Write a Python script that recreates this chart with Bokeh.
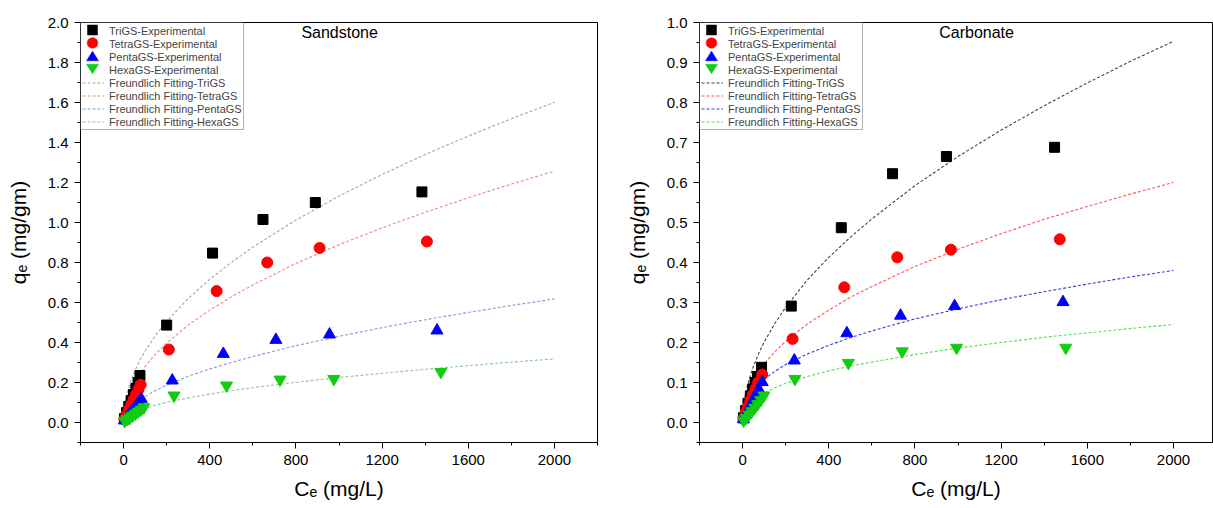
import math
from bokeh.plotting import figure
from bokeh.layouts import row
from bokeh.models import (FixedTicker, PrintfTickFormatter, Label, Range1d, Legend, LegendItem,
                          PolyAnnotation)
from bokeh.embed import file_html
from bokeh.resources import INLINE

# ---------------- data ----------------
legend_names = ["TriGS-Experimental", "TetraGS-Experimental", "PentaGS-Experimental", "HexaGS-Experimental",
                "Freundlich Fitting-TriGS", "Freundlich Fitting-TetraGS",
                "Freundlich Fitting-PentaGS", "Freundlich Fitting-HexaGS"]

# Sandstone experimental
ss_tri_ce = [4, 14, 24, 35, 46, 57, 67, 76, 200, 413, 647, 890, 1385]
ss_tri_qe = [0.02, 0.05, 0.08, 0.11, 0.14, 0.17, 0.20, 0.235, 0.487, 0.847, 1.015, 1.10, 1.153]
ss_tetra_ce = [4, 14, 25, 36, 47, 58, 69, 79, 210, 432, 667, 910, 1408]
ss_tetra_qe = [0.015, 0.04, 0.065, 0.09, 0.115, 0.14, 0.165, 0.189, 0.365, 0.657, 0.80, 0.873, 0.905]
ss_penta_ce = [4, 15, 27, 38, 50, 61, 72, 82, 226, 463, 707, 956, 1455]
ss_penta_qe = [0.01, 0.025, 0.04, 0.055, 0.07, 0.085, 0.10, 0.118, 0.21, 0.343, 0.413, 0.44, 0.46]
ss_hexa_ce = [5, 17, 30, 42, 55, 68, 81, 94, 234, 478, 726, 976, 1473]
ss_hexa_qe = [0.008, 0.017, 0.026, 0.035, 0.045, 0.055, 0.065, 0.076, 0.135, 0.185, 0.215, 0.218, 0.253]

# Carbonate experimental
cb_tri_ce = [4, 14, 25, 36, 47, 58, 69, 88, 226, 458, 696, 946, 1448]
cb_tri_qe = [0.012, 0.03, 0.048, 0.066, 0.084, 0.10, 0.115, 0.138, 0.291, 0.487, 0.622, 0.665, 0.688]
cb_tetra_ce = [4, 14, 25, 36, 48, 60, 72, 91, 232, 472, 718, 967, 1472]
cb_tetra_qe = [0.01, 0.025, 0.04, 0.055, 0.07, 0.085, 0.10, 0.12, 0.209, 0.338, 0.413, 0.432, 0.458]
cb_penta_ce = [4, 15, 27, 39, 51, 63, 75, 91, 240, 484, 733, 984, 1487]
cb_penta_qe = [0.008, 0.02, 0.032, 0.045, 0.058, 0.07, 0.083, 0.101, 0.155, 0.223, 0.267, 0.291, 0.301]
cb_hexa_ce = [5, 17, 30, 43, 56, 70, 84, 99, 243, 491, 741, 993, 1500]
cb_hexa_qe = [0.005, 0.012, 0.02, 0.028, 0.037, 0.046, 0.056, 0.0675, 0.109, 0.149, 0.178, 0.187, 0.187]

# Freundlich fitting curves
fit_ce = [0, 5, 10, 20, 35, 50, 75, 100, 150, 200, 300, 400, 500, 600, 800, 1000, 1200, 1400, 1600, 1800, 2000]
ss_fit_tri = [0, 0.080, 0.113, 0.160, 0.212, 0.253, 0.310, 0.358, 0.438, 0.506, 0.620, 0.716, 0.800, 0.877,
              1.012, 1.132, 1.240, 1.340, 1.432, 1.519, 1.601]
ss_fit_tetra = [0, 0.063, 0.089, 0.126, 0.166, 0.199, 0.243, 0.281, 0.344, 0.397, 0.487, 0.562, 0.628, 0.688,
                0.795, 0.889, 0.973, 1.051, 1.124, 1.192, 1.257]
ss_fit_penta = [0, 0.027, 0.039, 0.056, 0.075, 0.091, 0.112, 0.130, 0.161, 0.187, 0.231, 0.268, 0.300, 0.330,
                0.384, 0.431, 0.474, 0.514, 0.550, 0.585, 0.618]
ss_fit_hexa = [0, 0.016, 0.022, 0.032, 0.042, 0.050, 0.062, 0.071, 0.087, 0.101, 0.123, 0.142, 0.159, 0.174,
               0.201, 0.225, 0.246, 0.266, 0.284, 0.302, 0.318]
cb_fit_tri = [0, 0.042, 0.061, 0.087, 0.116, 0.140, 0.173, 0.201, 0.248, 0.288, 0.356, 0.413, 0.463, 0.509,
              0.592, 0.665, 0.731, 0.792, 0.849, 0.903, 0.953]
cb_fit_tetra = [0, 0.036, 0.050, 0.069, 0.090, 0.106, 0.128, 0.147, 0.177, 0.203, 0.246, 0.281, 0.313, 0.340,
                0.390, 0.433, 0.472, 0.508, 0.540, 0.571, 0.600]
cb_fit_penta = [0, 0.031, 0.041, 0.055, 0.069, 0.081, 0.096, 0.108, 0.128, 0.145, 0.171, 0.193, 0.212, 0.229,
                0.259, 0.284, 0.307, 0.327, 0.346, 0.364, 0.380]
cb_fit_hexa = [0, 0.022, 0.029, 0.039, 0.049, 0.056, 0.066, 0.074, 0.087, 0.098, 0.115, 0.129, 0.141, 0.151,
               0.170, 0.186, 0.200, 0.213, 0.224, 0.235, 0.245]

x_ticks = [0, 400, 800, 1200, 1600, 2000]
x_minor = [-200, 200, 600, 1000, 1400, 1800, 2200]
ss_y_ticks = [0.0, 0.2, 0.4, 0.6, 0.8, 1.0, 1.2, 1.4, 1.6, 1.8, 2.0]
ss_y_minor = [-0.1, 0.1, 0.3, 0.5, 0.7, 0.9, 1.1, 1.3, 1.5, 1.7, 1.9]
cb_y_ticks = [0.0, 0.1, 0.2, 0.3, 0.4, 0.5, 0.6, 0.7, 0.8, 0.9, 1.0]
cb_y_minor = [-0.05, 0.05, 0.15, 0.25, 0.35, 0.45, 0.55, 0.65, 0.75, 0.85, 0.95]

FONT = "Liberation Sans"
marker_colors = ["#000000", "#ff0000", "#0000ff", "#11cc11"]
markers = ["square", "circle", "triangle", "inverted_triangle"]
marker_sizes = [10, 11, 12, 12]

FRAME_H = 420
ROW_H = 13
PAD = 1
GLYPH_W = 22


def legend_symbol(kind, cx, cy):
    """Polygon vertices (screen px, relative to frame bottom-left) for a legend symbol."""
    if kind == "square":
        h = 5
        return [cx - h, cx + h, cx + h, cx - h], [cy - h, cy - h, cy + h, cy + h]
    if kind == "circle":
        r = 5.3
        n = 24
        return ([cx + r * math.cos(2 * math.pi * k / n) for k in range(n)],
                [cy + r * math.sin(2 * math.pi * k / n) for k in range(n)])
    if kind == "triangle":
        w, h = 6, 9.6
        return [cx - w, cx + w, cx], [cy - h / 2, cy - h / 2, cy + h / 2]
    w, h = 6, 9.6
    return [cx - w, cx + w, cx], [cy + h / 2, cy + h / 2, cy - h / 2]


def make_panel(title, exp, fits, line_colors, y_range, y_ticks, y_minor, x_end, width, min_left, min_right,
               title_xy):
    p = figure(width=width, height=508, output_backend="svg", toolbar_location=None,
               x_range=Range1d(-200, x_end), y_range=Range1d(*y_range),
               min_border_left=min_left, min_border_right=min_right, min_border_top=22, min_border_bottom=66)
    p.xgrid.visible = False
    p.ygrid.visible = False
    p.outline_line_color = "black"
    p.outline_line_width = 1
    p.background_fill_color = "white"

    line_renderers = []
    for (ys, col) in zip(fits, line_colors):
        r = p.line(fit_ce, ys, line_color=col, line_width=1.1, line_dash="3 2")
        line_renderers.append(r)
    for (ce, qe), col, mk, sz in zip(exp, marker_colors, markers, marker_sizes):
        p.scatter(ce, qe, marker=mk, size=sz, fill_color=col, line_color=col)

    # invisible stand-ins: the legend symbols are drawn larger below
    dummies = [p.scatter(x=[], y=[], marker=mk, fill_alpha=0, line_alpha=0) for mk in markers]

    items = [LegendItem(label=n, renderers=[r]) for n, r in zip(legend_names, dummies + line_renderers)]
    lg = Legend(items=items, location="top_left", margin=0, padding=PAD, spacing=0,
                label_text_font=FONT, label_text_font_size="11px", label_height=ROW_H, glyph_height=ROW_H,
                glyph_width=GLYPH_W, label_standoff=5, border_line_color="#666666", border_line_width=1,
                background_fill_color="white", background_fill_alpha=0.0)
    p.add_layout(lg)

    for i, (mk, col) in enumerate(zip(markers, marker_colors)):
        cx = PAD + GLYPH_W / 2
        cy = FRAME_H - PAD - ROW_H / 2 - ROW_H * i
        xs, ys = legend_symbol(mk, cx, cy)
        p.add_layout(PolyAnnotation(xs=xs, ys=ys, xs_units="screen", ys_units="screen",
                                    fill_color=col, fill_alpha=1.0, line_color=col, line_alpha=1.0,
                                    line_width=0.5, level="overlay"))

    p.add_layout(Label(x=title_xy[0], y=title_xy[1], text=title, text_align="center",
                       text_baseline="middle", text_font=FONT, text_font_size="16px", text_color="black"))

    p.xaxis.ticker = FixedTicker(ticks=x_ticks, minor_ticks=x_minor)
    p.yaxis.ticker = FixedTicker(ticks=y_ticks, minor_ticks=y_minor)
    p.yaxis.formatter = PrintfTickFormatter(format="%.1f")
    p.xaxis.axis_label = "C\u2091 (mg/L)"
    p.yaxis.axis_label = "q\u2091 (mg/gm)"
    for ax in (p.xaxis, p.yaxis):
        ax.axis_line_color = "black"
        ax.major_tick_line_color = "black"
        ax.minor_tick_line_color = "black"
        ax.major_tick_in = 0
        ax.major_tick_out = 6
        ax.minor_tick_in = 0
        ax.minor_tick_out = 3
        ax.major_label_text_font = FONT
        ax.major_label_text_font_size = "15px"
        ax.major_label_text_color = "black"
        ax.axis_label_text_font = FONT
        ax.axis_label_text_font_size = "21px"
        ax.axis_label_text_font_style = "normal"
        ax.axis_label_text_color = "black"
    p.xaxis.major_label_standoff = 6
    p.xaxis.axis_label_standoff = 9
    p.yaxis.major_label_standoff = 6
    p.yaxis.axis_label_standoff = 15
    return p


left = make_panel("Sandstone",
                  [(ss_tri_ce, ss_tri_qe), (ss_tetra_ce, ss_tetra_qe), (ss_penta_ce, ss_penta_qe), (ss_hexa_ce, ss_hexa_qe)],
                  [ss_fit_tri, ss_fit_tetra, ss_fit_penta, ss_fit_hexa],
                  ["#a8a8a8", "#f08a8a", "#7d9fd8", "#8cc8a0"],
                  (-0.1, 2.0), ss_y_ticks, ss_y_minor, 2200, 620, 80, 23, (1003, 1.95))

right = make_panel("Carbonate",
                   [(cb_tri_ce, cb_tri_qe), (cb_tetra_ce, cb_tetra_qe), (cb_penta_ce, cb_penta_qe), (cb_hexa_ce, cb_hexa_qe)],
                   [cb_fit_tri, cb_fit_tetra, cb_fit_penta, cb_fit_hexa],
                   ["#444444", "#ff5555", "#3a3ae0", "#55dd55"],
                   (-0.05, 1.0), cb_y_ticks, cb_y_minor, 2181, 593, 79, 1, (1086, 0.975))

layout = row(left, right)
open("out.html", "w").write(file_html(layout, INLINE))
